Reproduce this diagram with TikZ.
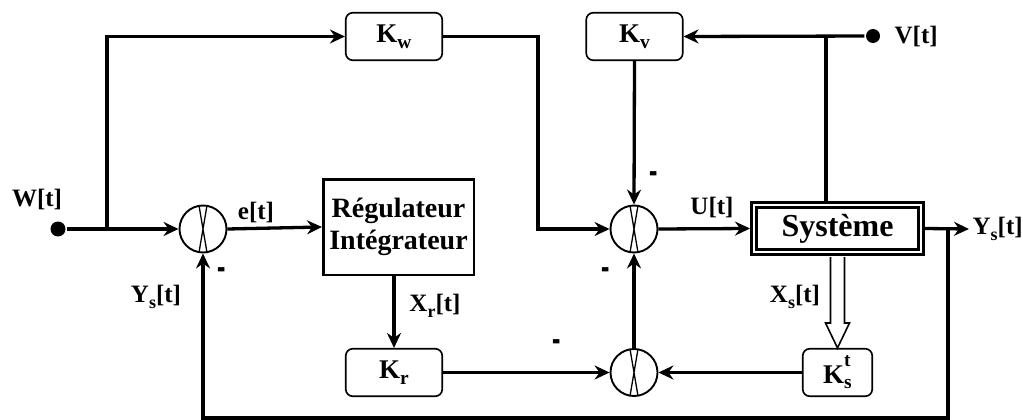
\documentclass[tikz,border=0pt]{standalone}
\usepackage{fontspec}
\setmainfont{Liberation Serif}
\usetikzlibrary{arrows.meta,calc}
\newcommand{\sbs}[1]{\raisebox{-0.22em}{\scalebox{0.72}{#1}}}
\newcommand{\sps}[1]{\raisebox{0.6em}{\scalebox{0.72}{#1}}}
\begin{document}
\begin{tikzpicture}[x=1pt,y=-1pt,
  line width=3.3pt,
  >={Stealth[length=15pt,width=14pt,inset=5pt]},
  gain/.style={draw, line width=1.6pt, rounded corners=7pt, minimum width=96.5pt, minimum height=47.5pt, inner sep=0pt, font=\fontsize{27}{30}\selectfont\bfseries},
  lbl/.style={font=\fontsize{25}{28}\selectfont\bfseries, inner sep=0pt},
  minus/.style={font=\fontsize{25}{28}\selectfont\bfseries, inner sep=0pt},
  sumj/.style={circle, draw, line width=1.9pt, minimum size=47pt, inner sep=0pt,
    path picture={\draw[line width=1.3pt]
      ([xshift=-4pt]path picture bounding box.north) -- ([xshift=4pt]path picture bounding box.south)
      ([xshift=4pt]path picture bounding box.north) -- ([xshift=-4pt]path picture bounding box.south);}},
  dot/.style={circle, fill, inner sep=0pt, minimum size=15pt},
  hollow/.style={draw, line width=1.6pt, fill=white, line join=miter}
]
\useasboundingbox (0,0) rectangle (1023,420);

% nodes
\node[dot] (W) at (58,229) {};
\node[lbl] (Wl) at (37,199) {W[t]};
\coordinate (br) at (107,229);
\node[sumj] (s1) at (203,229) {};
\node[lbl] (el) at (256,212) {e[t]};
\node[draw, line width=2.5pt, minimum width=150.5pt, minimum height=95.5pt, inner sep=0pt, align=center,
  font=\fontsize{28}{32}\selectfont\bfseries] (reg) at (398.5,227) {Régulateur\\Intégrateur};
\node[gain] (Kw) at (394,36.5) {K\sbs{w}};
\node[gain] (Kv) at (634.5,36.5) {K\sbs{v}};
\node[dot, minimum size=14pt] (V) at (873,36) {};
\node[lbl, anchor=west] (Vl) at (893,36) {V[t]};
\coordinate (jv) at (826,36);
\coordinate (c1) at (538,229);
\node[sumj] (s2) at (634,229) {};
\node[lbl] (Ul) at (712,207) {U[t]};
\node[draw, line width=3.2pt, double=white, double distance=2pt, outer sep=4.2pt,
  minimum width=166.6pt, minimum height=46.6pt, inner sep=0pt,
  font=\fontsize{32}{36}\selectfont\bfseries] (sys) at (837.5,228.5) {Système};
\node[lbl, anchor=west] (Ys) at (971,229) {Y\sbs{s}[t]};
\coordinate (fb) at (948,229);
\coordinate (fbb) at (948,418);
\node[lbl] (Ysl) at (156,297) {Y\sbs{s}[t]};
\node[lbl] (Xr) at (435,306) {X\sbs{r}[t]};
\node[lbl] (Xs) at (795,297) {X\sbs{s}[t]};
\node[gain] (Kr) at (394,372.5) {K\sbs{r}};
\node[sumj] (s3) at (634,372.5) {};
\node[gain, minimum width=69.5pt] (Ks) at (837.5,372.5) {K\makebox[0pt][l]{\sps{t}}\sbs{s}\hspace{4pt}};

% minus signs
\node[minus] (m1) at (222,275) {\scalebox{1}[2]{-}};
\node[minus] (m2) at (654,179) {\scalebox{1}[2]{-}};
\node[minus] (m3) at (606,275) {\scalebox{1}[2]{-}};
\node[minus] (m4) at (557,347) {\scalebox{1}[2]{-}};

% connectors
\draw[->] (W) -- (s1.west);
\draw[->] (br) |- (Kw.west);
\draw[->] (s1.east) -- (reg.west);
\draw[->] (Kw.east) -| (c1) -- (s2.west);
\draw[->] (V) -- (Kv.east);
\draw (jv) -- (jv |- sys.north);
\draw[->] (Kv.south) -- (s2.north);
\draw[->] (s2.east) -- (sys.west);
\draw[->] (sys.east) -- ([xshift=-2pt]Ys.west);
\draw[->] (fb) -- (fbb) -| (s1.south);
\draw[->] (Kr.north |- reg.south) -- (Kr.north);
\draw[->] (Kr.east) -- (s3.west);
\draw[->] (Ks.west) -- (s3.east);
\draw[->] (s3.north) -- (s2.south);
% hollow arrow
\draw[hollow] ([xshift=-7pt,yshift=-1pt]sys.south) -- ([xshift=-7pt,yshift=25pt]Ks.north)
  -- ([xshift=-12pt,yshift=25pt]Ks.north) -- (Ks.north) -- ([xshift=12pt,yshift=25pt]Ks.north)
  -- ([xshift=7pt,yshift=25pt]Ks.north) -- ([xshift=7pt,yshift=-1pt]sys.south);
\end{tikzpicture}
\end{document}
